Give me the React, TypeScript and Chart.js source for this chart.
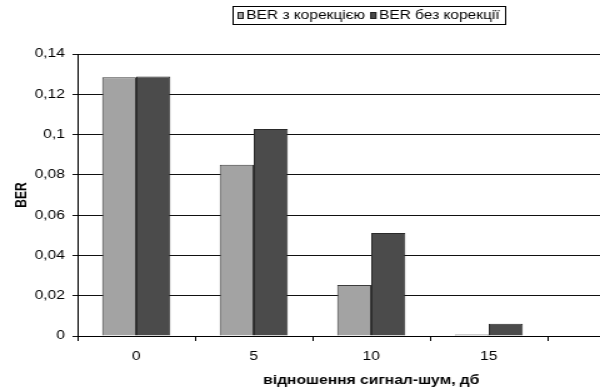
import React, { useEffect, useRef } from "react";
import { Chart, registerables } from "chart.js";

Chart.register(...registerables);

const categories = ["0", "5", "10", "15", ""];
const seriesNames = ["BER з корекцією", "BER без корекції"];
const withCorrection = [0.1284, 0.085, 0.0253, 0.0008, null];
const withoutCorrection = [0.1288, 0.1028, 0.0511, 0.0061, null];
const yTicks = { min: 0, max: 0.14, step: 0.02 };
const xTitle = "відношення сигнал-шум, дб";
const yTitle = "BER";

const FONT = '"Liberation Sans", Arial, sans-serif';
const STRETCH = 1.25; // the reference image is horizontally stretched
const INNER_W = 581;
const H = 392;

const legendBox = {
  id: "legendBox",
  afterDraw(chart: any) {
    const ctx = chart.ctx;
    ctx.save();
    ctx.font = `12.4px ${FONT}`;
    ctx.textBaseline = "middle";
    const items = chart.data.datasets.map((ds: any) => ({
      text: ds.label,
      fill: ds.backgroundColor,
      stroke: ds.borderColor,
      w: ctx.measureText(ds.label).width,
    }));
    const markerW = 5;
    const markerH = 7;
    const gapM = 2;
    const gapItem = 4;
    const padX = 4;
    let total = padX * 2 + gapItem * (items.length - 1);
    items.forEach((it: any) => (total += markerW + gapM + it.w));
    const cx = 295;
    const left = Math.round(cx - total / 2);
    const top = 6;
    const h = 18;
    ctx.strokeStyle = "#000";
    ctx.lineWidth = 1;
    ctx.strokeRect(left + 0.5, top + 0.5, Math.round(total), h);
    let x = left + padX;
    const midY = top + h / 2 + 0.5;
    items.forEach((it: any) => {
      const my = Math.round(midY - markerH / 2);
      ctx.fillStyle = it.fill;
      ctx.fillRect(x, my, markerW, markerH);
      ctx.strokeStyle = "#222";
      ctx.strokeRect(x + 0.5, my + 0.5, markerW - 1, markerH - 1);
      x += markerW + gapM;
      ctx.fillStyle = "#000";
      ctx.fillText(it.text, x, midY);
      x += it.w + gapItem;
    });
    ctx.restore();
  },
};

export default function App() {
  const ref = useRef<HTMLCanvasElement | null>(null);
  useEffect(() => {
    if (!ref.current) return;
    Chart.defaults.font.family = FONT;
    Chart.defaults.color = "#000";
    const chart = new Chart(ref.current, {
      type: "bar",
      data: {
        labels: categories,
        datasets: [
          {
            label: seriesNames[0],
            data: withCorrection,
            backgroundColor: "#a3a3a3",
            borderColor: "#3c3c3c",
            borderWidth: 1,
            categoryPercentage: 0.58,
            barPercentage: 1,
          },
          {
            label: seriesNames[1],
            data: withoutCorrection,
            backgroundColor: "#4b4b4b",
            borderColor: "#2a2a2a",
            borderWidth: 1,
            categoryPercentage: 0.58,
            barPercentage: 1,
          },
        ],
      },
      options: {
        animation: false,
        responsive: false,
        devicePixelRatio: 1,
        layout: { padding: { top: 54, right: 49, left: 0, bottom: 0 } },
        plugins: { legend: { display: false }, tooltip: { enabled: false } },
        scales: {
          x: {
            grid: {
              offset: true,
              drawOnChartArea: false,
              drawTicks: true,
              tickLength: 5,
              color: "#000",
            },
            border: { display: true, color: "#000", width: 1 },
            ticks: { padding: 8, font: { size: 12.5 }, color: "#000", maxRotation: 0 },
            title: {
              display: true,
              text: xTitle,
              font: { size: 12.5, weight: "bold" },
              padding: { top: 0, bottom: 4 },
              color: "#000",
            },
            afterFit(scale: any) {
              scale.height = 56;
            },
          },
          y: {
            min: yTicks.min,
            max: yTicks.max,
            grid: { color: "#111", tickLength: 4, drawTicks: true },
            border: { display: true, color: "#000", width: 1 },
            ticks: {
              stepSize: yTicks.step,
              padding: 6,
              font: { size: 12.5 },
              color: "#000",
              callback: (v: any) => Number(Number(v).toFixed(2)).toString().replace(".", ","),
            },
            title: {
              display: true,
              text: yTitle,
              font: { size: 12, weight: "bold" },
              padding: { top: 10, bottom: 0 },
              color: "#000",
            },
            afterFit(scale: any) {
              scale.width = 62;
            },
          },
        },
      },
      plugins: [legendBox],
    } as any);
    return () => chart.destroy();
  }, []);
  return (
    <div
      style={{
        position: "fixed",
        left: 0,
        top: 0,
        width: 600,
        height: H,
        overflow: "hidden",
        background: "#fff",
      }}
    >
      <div style={{ transform: `scaleX(${STRETCH})`, transformOrigin: "0 0", width: INNER_W, height: H }}>
        <canvas
          ref={ref}
          width={INNER_W}
          height={H}
          style={{ width: INNER_W, height: H, display: "block" }}
        />
      </div>
    </div>
  );
}
